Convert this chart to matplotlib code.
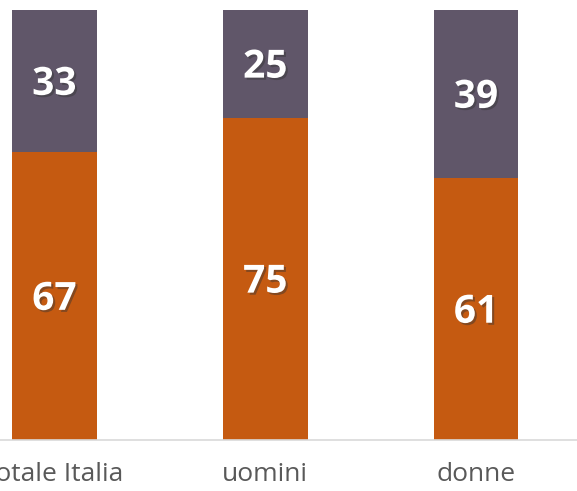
import matplotlib.pyplot as plt
import matplotlib.patheffects as pe
import numpy as np

# categories and stacked shares (%)
categories = ["totale Italia", "uomini", "donne"]
lower_vals = [67, 75, 61]
upper_vals = [33, 25, 39]

orange = "#C55A11"
purple = "#605669"

fig = plt.figure(figsize=(5.77, 4.91), dpi=100)
ax = fig.add_axes([0, 51 / 491, 1, 430 / 491])

x = np.arange(len(categories))
w = 0.403
ax.bar(x, lower_vals, width=w, color=orange)
ax.bar(x, upper_vals, width=w, bottom=lower_vals, color=purple)

shadow = [pe.SimplePatchShadow(offset=(1.5, -1.5), alpha=0.45, shadow_rgbFace="#333333"), pe.Normal()]
fs = 28
for i in range(len(categories)):
    for yv, val in [(lower_vals[i] / 2, lower_vals[i]),
                    (lower_vals[i] + upper_vals[i] / 2, upper_vals[i])]:
        ax.annotate(str(val), (x[i], yv), xytext=(0, -0.357 * fs), textcoords="offset points",
                    ha="center", va="baseline", color="white", fontsize=fs,
                    fontweight="bold", family="Open Sans", path_effects=shadow)

ax.set_xlim(-0.258, 2.479)
ax.set_ylim(0, 100)
ax.set_yticks([])
ax.set_xticks(x)
ax.set_xticklabels(categories, fontsize=19, color="#595959", family="Open Sans")
ax.tick_params(axis="x", length=0, pad=16)
for s in ["top", "left", "right"]:
    ax.spines[s].set_visible(False)
ax.spines["bottom"].set_color("#D9D9D9")
ax.spines["bottom"].set_linewidth(1.2)

fig.savefig("out.png", dpi=100)
